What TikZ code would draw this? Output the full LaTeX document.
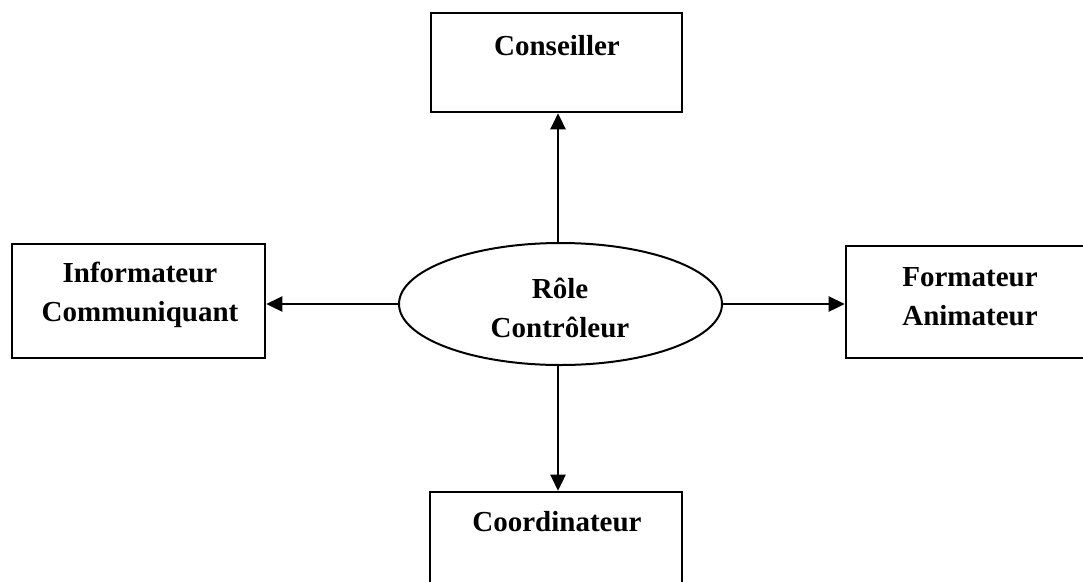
\documentclass[tikz,border=0pt]{standalone}
\usepackage{fontspec}
\setmainfont{Liberation Serif}
\usetikzlibrary{arrows.meta,shapes.geometric}
\begin{document}
\begin{tikzpicture}[x=1pt,y=-1pt,
  box/.style={draw,line width=2.6pt,inner sep=0pt},
  lbl/.style={font=\fontsize{29}{39}\selectfont\bfseries,align=center,inner sep=0pt},
  role/.style={draw,ellipse,line width=2pt,inner sep=0pt,minimum width=323pt,minimum height=122pt},
  link/.style={line width=2.6pt,-{Triangle[length=16pt,width=15pt]}}]
\useasboundingbox (0,0) rectangle (1083,581);
\clip (0,0) rectangle (1083,581);
% central role
\node[role] (centre) at (560.5,304) {};
\node[lbl] (centreT) at (560,308) {Rôle\\Contrôleur};
% surrounding roles
\node[box,minimum width=251pt,minimum height=99pt] (cons) at (556.5,62.5) {};
\node[lbl,anchor=base] (consT) at (557,55) {Conseiller};
\node[box,minimum width=253pt,minimum height=114pt] (info) at (138.5,301) {};
\node[lbl] (infoT) at (140,295) {Informateur\\Communiquant};
\node[box,minimum width=250pt,minimum height=112pt] (form) at (971,302) {};
\node[lbl] (formT) at (970,297) {Formateur\\Animateur};
\node[box,minimum width=252pt,minimum height=110pt] (coord) at (556,547) {};
\node[lbl,anchor=base] (coordT) at (557,531) {Coordinateur};
% vertical axis of the up/down connectors
\coordinate (axis) at (558,304);
% connectors
\draw[link] (axis |- centre.north) -- (axis |- cons.south);
\draw[link] (centre.west) -- (centre.west -| info.east);
\draw[link] (centre.east) -- (centre.east -| form.west);
\draw[link] (axis |- centre.south) -- (axis |- coord.north);
\end{tikzpicture}
\end{document}
